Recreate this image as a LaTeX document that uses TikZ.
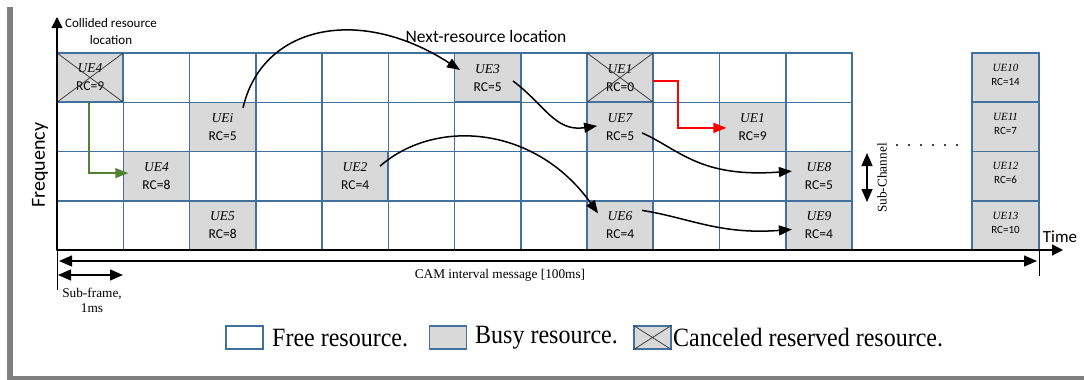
\documentclass[tikz,border=0pt]{standalone}
\usepackage{fontspec}
\setmainfont{Liberation Serif}
\newfontfamily\carl{Carlito}
\usepackage{graphicx}
\usetikzlibrary{arrows.meta}
\definecolor{gridblue}{HTML}{41719C}
\definecolor{busygray}{HTML}{D9D9D9}
\definecolor{framegray}{HTML}{7F7F7F}
\definecolor{arrowgreen}{HTML}{548235}
\newcommand{\uerc}[2]{{\itshape #1}\\{\carl #2}}
\begin{document}
\begin{tikzpicture}[x=1pt,y=-1pt,
  gridcell/.style={draw=gridblue,line width=1.5pt,minimum width=66.25pt,minimum height=49.25pt,inner sep=0pt,outer sep=0pt},
  busy/.style={gridcell,fill=busygray,align=center,font=\fontsize{13.5}{18}\selectfont},
  lastcell/.style={gridcell,fill=busygray,minimum width=67pt},
  lasttxt/.style={align=center,font=\fontsize{11}{14}\selectfont,inner sep=0pt},
  crossline/.style={draw=black!75,line width=0.8pt},
  axisarrow/.style={line width=1.2pt,-{Triangle[length=11pt,width=11pt]}},
  dblarrow/.style={line width=1.2pt,{Triangle[length=13pt,width=11pt]}-{Triangle[length=13pt,width=11pt]}},
  flow/.style={line width=1.5pt,-{Triangle[length=13pt,width=10pt]}},
  sanslabel/.style={font=\carl\fontsize{13}{17}\selectfont,align=center,inner sep=0pt},
  seriflabel/.style={font=\fontsize{13.3}{15}\selectfont,align=center,inner sep=0pt},
  legbox/.style={draw=gridblue,line width=1.5pt,minimum width=37pt,minimum height=23pt,inner sep=0pt},
  legtext/.style={anchor=west,font=\fontsize{24}{24}\selectfont,inner sep=0pt}
]
\useasboundingbox (0,0) rectangle (1084,380);
% frame bars
\fill[framegray] (7,7) rectangle (13,380);
\fill[framegray] (7,376) rectangle (1084,380);
% grid
\foreach \r in {0,1,2,3}{
  \foreach \c in {0,...,11}{
    \node[gridcell] (g-\r-\c) at ({57+66.25*(\c+0.5)},{53+49.25*(\r+0.5)}) {};
  }
}
% busy cells
\node[busy] (ue4a) at (90.1,77.6) {\uerc{UE4}{RC=9}};
\node[busy] (ue3) at (487.6,77.6) {\uerc{UE3}{RC=5}};
\node[busy] (ue1a) at (620.1,77.6) {\uerc{UE1}{RC=0}};
\node[busy] (uei) at (222.6,126.9) {\uerc{UEi}{RC=5}};
\node[busy] (ue7) at (620.1,126.9) {\uerc{UE7}{RC=5}};
\node[busy] (ue1b) at (752.6,126.9) {\uerc{UE1}{RC=9}};
\node[busy] (ue4b) at (156.4,176.1) {\uerc{UE4}{RC=8}};
\node[busy] (ue2) at (355.1,176.1) {\uerc{UE2}{RC=4}};
\node[busy] (ue8) at (818.9,176.1) {\uerc{UE8}{RC=5}};
\node[busy] (ue5) at (222.6,225.4) {\uerc{UE5}{RC=8}};
\node[busy] (ue6) at (620.1,225.4) {\uerc{UE6}{RC=4}};
\node[busy] (ue9) at (818.9,225.4) {\uerc{UE9}{RC=4}};
% crosses
\draw[crossline] (ue4a.north west) -- (ue4a.south east) (ue4a.south west) -- (ue4a.north east);
\draw[crossline] (ue1a.north west) -- (ue1a.south east) (ue1a.south west) -- (ue1a.north east);
% last column
\node[lastcell] (u10) at (1005.5,77.6) {};
\node[lastcell] (u11) at (1005.5,126.9) {};
\node[lastcell] (u12) at (1005.5,176.1) {};
\node[lastcell] (u13) at (1005.5,225.4) {};
\node[lasttxt] (t10) at ([shift={(0,-3)}]u10.center) {\uerc{UE10}{RC=14}};
\node[lasttxt] (t11) at ([shift={(0,-3)}]u11.center) {\uerc{UE11}{RC=7}};
\node[lasttxt] (t12) at ([shift={(0,-3)}]u12.center) {\uerc{UE12}{RC=6}};
\node[lasttxt] (t13) at ([shift={(0,-3)}]u13.center) {\uerc{UE13}{RC=10}};
% axes
\coordinate (origin) at (57,250);
\coordinate (ytop) at (57,17);
\coordinate (xend) at (1063,250);
\draw[axisarrow] (origin) -- (ytop);
\draw[axisarrow] (origin) -- (xend);
% labels
\node[sanslabel] (collided) at (111,31.5) {Collided resource\\location};
\node[sanslabel,font=\carl\fontsize{17.5}{20}\selectfont] (nextres) at (486,36) {Next-resource location};
\node[sanslabel,font=\carl\fontsize{20}{22}\selectfont,rotate=90] (freq) at (40,165) {Frequency};
\node[sanslabel,font=\carl\fontsize{17}{20}\selectfont] (timelbl) at (1060,237) {Time};
\node[seriflabel,rotate=90] (subch) at (882,178) {Sub-Channel};
\coordinate (scTop) at (867,153);
\coordinate (scBot) at (867,202);
\draw[dblarrow] (scTop) -- (scBot);
\foreach \i in {0,...,5}{\fill (897+12*\i,145) circle (1.1);}
% CAM interval
\coordinate (tickL1) at (57,250);
\coordinate (tickL2) at (57,290);
\coordinate (tickR1) at (1039,250);
\coordinate (tickR2) at (1039,276);
\draw[line width=0.9pt] (tickL1) -- (tickL2);
\draw[line width=0.9pt] (tickR1) -- (tickR2);
\coordinate (camL) at (59,261);
\coordinate (camR) at (1037,261);
\draw[dblarrow] (camL) -- (camR);
\node[seriflabel] (camlbl) at (500,275) {CAM interval message [100ms]};
\coordinate (sfL) at (58,275);
\coordinate (sfR) at (123,275);
\draw[dblarrow] (sfL) -- (sfR);
\node[seriflabel] (sflbl) at (92,300.5) {Sub-frame,\\1ms};
% flows
\draw[flow] ([shift={(20.4,-18.9)}]uei.center) .. controls (262,25) and (360,5) .. ([shift={(-27.6,-7.6)}]ue3.center);
\draw[flow] ([shift={(25.4,3.4)}]ue3.center) .. controls (545,105) and (555,132) .. ([shift={(-23,-1)}]ue7.center);
\draw[flow] ([shift={(25,-10)}]ue2.center) .. controls (435,118) and (535,125) .. ([shift={(-22,-12)}]ue6.center);
\draw[flow] ([shift={(22,6)}]ue7.center) .. controls (680,150) and (700,178) .. ([shift={(-27,-5)}]ue8.center);
\draw[flow] ([shift={(22,-15)}]ue6.center) .. controls (690,218) and (720,235) .. ([shift={(-27,4)}]ue9.center);
\draw[flow,red] ([shift={(0,3.4)}]ue1a.east) -- ++(25,0) |- ([shift={(7,1)}]ue1b.west);
\draw[flow,arrowgreen] ([shift={(-1,0)}]ue4a.south) |- ([shift={(5,-3)}]ue4b.west);
% legend
\node[legbox] (lfree) at (244.5,337.5) {};
\node[legtext] (tfree) at (272,338) {\scalebox{1}[1.1]{Free resource.}};
\node[legbox,fill=busygray] (lbusy) at (448,337.5) {};
\node[legtext] (tbusy) at (475,338) {\scalebox{1}[1.1]{Busy resource.}};
\node[legbox,fill=busygray] (lcanc) at (652.5,337.5) {};
\draw[crossline] (lcanc.north west) -- (lcanc.south east) (lcanc.south west) -- (lcanc.north east);
\node[legtext] (tcanc) at (673,338) {\scalebox{1}[1.1]{Canceled reserved resource.}};
\end{tikzpicture}
\end{document}
